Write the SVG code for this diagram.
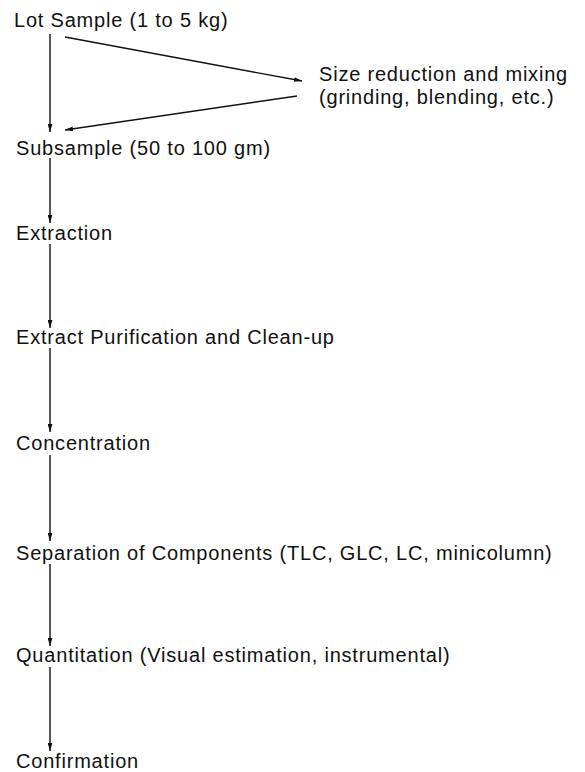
<svg xmlns="http://www.w3.org/2000/svg" width="585" height="772" viewBox="0 0 585 772">
<style>
text{font-family:"Liberation Sans",Arial,sans-serif;font-size:20px;letter-spacing:0.8px;fill:#111}
.c line{stroke:#111;stroke-width:1.4;marker-end:url(#ah)}
</style>
<defs>
<marker id="ah" viewBox="0 0 10 6" refX="10" refY="3" markerWidth="8" markerHeight="5" markerUnits="userSpaceOnUse" orient="auto"><path d="M0,0 L10,3 L0,6 z" fill="#111"/></marker>
</defs>
<rect width="585" height="772" fill="#fff"/>
<g id="lot"><text x="14" y="27">Lot Sample (1 to 5 kg)</text></g>
<g id="size"><text x="319" y="81">Size reduction and mixing</text><text x="319" y="104">(grinding, blending, etc.)</text></g>
<g id="subsample"><text x="16" y="155">Subsample (50 to 100 gm)</text></g>
<g id="extraction"><text x="16" y="240">Extraction</text></g>
<g id="purification"><text x="16" y="344">Extract Purification and Clean-up</text></g>
<g id="concentration"><text x="16" y="450">Concentration</text></g>
<g id="separation"><text x="16" y="560">Separation of Components (TLC, GLC, LC, minicolumn)</text></g>
<g id="quantitation"><text x="16" y="662">Quantitation (Visual estimation, instrumental)</text></g>
<g id="confirmation"><text x="16" y="768">Confirmation</text></g>
<g class="c" id="connectors">
<line x1="50" y1="34" x2="50" y2="132"/>
<line x1="65" y1="37" x2="302" y2="81"/>
<line x1="297" y1="96" x2="65" y2="130"/>
<line x1="50" y1="158" x2="50" y2="223"/>
<line x1="50" y1="244" x2="50" y2="328"/>
<line x1="50" y1="348" x2="50" y2="432"/>
<line x1="50" y1="455" x2="50" y2="541"/>
<line x1="50" y1="564" x2="50" y2="646"/>
<line x1="50" y1="667" x2="50" y2="751"/>
</g>
</svg>
